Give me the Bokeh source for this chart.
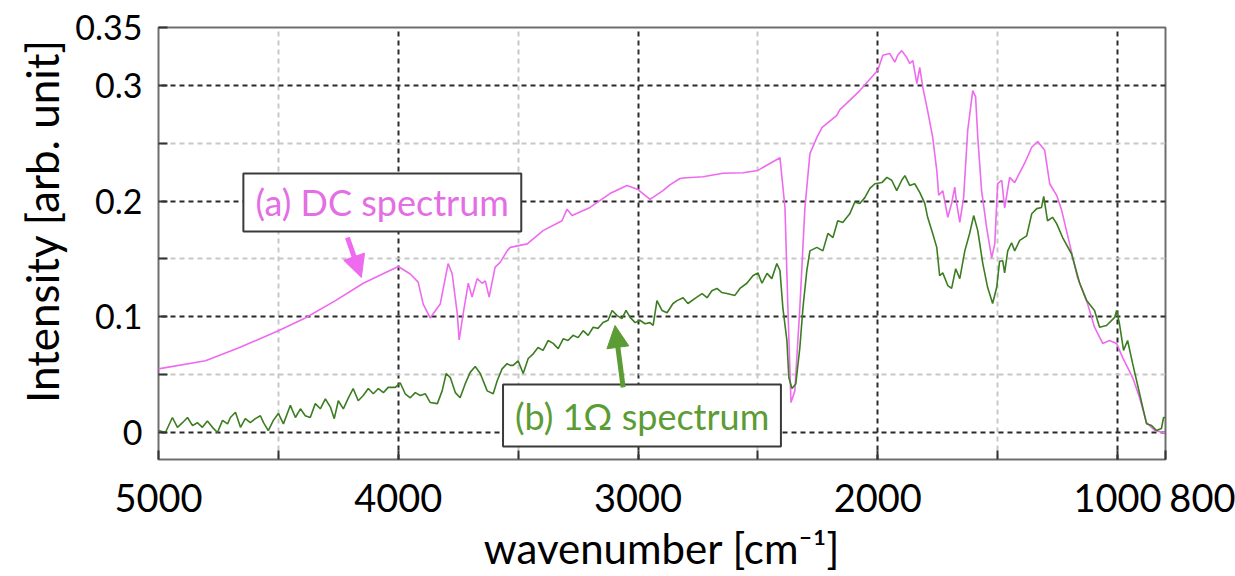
from bokeh.plotting import figure
from bokeh.models import Range1d, FixedTicker, Arrow, NormalHead, Label, BoxAnnotation
from bokeh.embed import file_html
from bokeh.resources import INLINE

# (a) DC spectrum
dc_wavenumber = [5000, 4804, 4667, 4500, 4388, 4262, 4146, 4000, 3950, 3917, 3896, 3867,
                 3825, 3792, 3775, 3754, 3746, 3729, 3708, 3692, 3671, 3650, 3637, 3621,
                 3596, 3575, 3546, 3533, 3462, 3396, 3317, 3296, 3275, 3200, 3117, 3046,
                 3000, 2950, 2896, 2867, 2825, 2812, 2729, 2646, 2562, 2500, 2450, 2408,
                 2387, 2375, 2362, 2346, 2325, 2304, 2283, 2254, 2233, 2171, 2158, 2117,
                 2075, 2000, 1979, 1950, 1929, 1917, 1900, 1879, 1867, 1854, 1837, 1825,
                 1812, 1792, 1771, 1754, 1746, 1729, 1708, 1692, 1679, 1671, 1658, 1642,
                 1625, 1604, 1592, 1583, 1567, 1546, 1525, 1512, 1500, 1483, 1471, 1450,
                 1429, 1408, 1388, 1358, 1333, 1304, 1283, 1254, 1233, 1200, 1167, 1129,
                 1096, 1062, 1033, 1004, 979, 937, 908, 879, 846, 812, 800]
dc_intensity = [0.055, 0.062, 0.073, 0.088, 0.099, 0.114, 0.129, 0.1435, 0.137, 0.130, 0.111, 0.099,
                0.111, 0.146, 0.137, 0.103, 0.080, 0.103, 0.129, 0.117, 0.133, 0.129, 0.131, 0.117,
                0.143, 0.147, 0.157, 0.160, 0.163, 0.1745, 0.183, 0.193, 0.1875, 0.1945, 0.2065, 0.2135,
                0.210, 0.2015, 0.209, 0.214, 0.2195, 0.220, 0.221, 0.224, 0.2245, 0.2265, 0.2325, 0.2375,
                0.194, 0.108, 0.026, 0.036, 0.108, 0.194, 0.241, 0.255, 0.2635, 0.274, 0.279, 0.287,
                0.2955, 0.313, 0.326, 0.3275, 0.320, 0.326, 0.330, 0.324, 0.319, 0.3215, 0.3015, 0.3155,
                0.298, 0.278, 0.255, 0.2265, 0.205, 0.209, 0.186, 0.198, 0.212, 0.198, 0.1815, 0.203,
                0.261, 0.2955, 0.290, 0.255, 0.209, 0.177, 0.151, 0.163, 0.215, 0.218, 0.194, 0.2205,
                0.216, 0.2245, 0.2325, 0.2465, 0.2515, 0.244, 0.215, 0.205, 0.192, 0.163, 0.134, 0.114,
                0.091, 0.077, 0.0795, 0.077, 0.065, 0.0475, 0.030, 0.0085, 0.002, 0.0, 0.0]

# (b) 1 Omega spectrum
ohm_wavenumber = [5000, 4971, 4942, 4921, 4900, 4879, 4858, 4838, 4817, 4796, 4775, 4754,
                  4733, 4712, 4700, 4679, 4658, 4638, 4617, 4596, 4575, 4562, 4542, 4521,
                  4500, 4479, 4450, 4429, 4408, 4388, 4367, 4346, 4325, 4304, 4283, 4267,
                  4250, 4229, 4208, 4188, 4167, 4146, 4125, 4104, 4083, 4062, 4042, 4012,
                  3992, 3971, 3950, 3929, 3908, 3887, 3867, 3837, 3817, 3800, 3783, 3762,
                  3742, 3721, 3700, 3679, 3658, 3629, 3604, 3587, 3567, 3546, 3533, 3521,
                  3500, 3479, 3458, 3437, 3417, 3396, 3375, 3354, 3333, 3312, 3292, 3271,
                  3250, 3229, 3208, 3187, 3167, 3146, 3125, 3108, 3087, 3067, 3050, 3033,
                  3012, 2992, 2971, 2950, 2937, 2921, 2900, 2879, 2854, 2837, 2812, 2792,
                  2762, 2733, 2712, 2692, 2671, 2650, 2625, 2596, 2575, 2546, 2521, 2500,
                  2483, 2462, 2442, 2421, 2408, 2396, 2379, 2371, 2358, 2342, 2325, 2312,
                  2296, 2283, 2254, 2229, 2208, 2187, 2167, 2146, 2117, 2096, 2075, 2054,
                  2033, 2012, 1983, 1962, 1942, 1921, 1900, 1887, 1867, 1846, 1825, 1804,
                  1792, 1771, 1754, 1742, 1729, 1708, 1692, 1675, 1658, 1637, 1617, 1600,
                  1583, 1562, 1542, 1521, 1504, 1492, 1479, 1471, 1458, 1442, 1429, 1408,
                  1379, 1358, 1337, 1317, 1308, 1292, 1271, 1254, 1229, 1192, 1158, 1129,
                  1096, 1075, 1046, 1012, 1004, 992, 975, 958, 937, 908, 879, 858,
                  837, 817, 808, 800]
ohm_intensity = [0.0017, 0.0, 0.013, 0.0045, 0.0085, 0.013, 0.006, 0.0085, 0.0045, 0.010, 0.0045, 0.0,
                 0.0105, 0.0075, 0.013, 0.0175, 0.0045, 0.012, 0.0085, 0.012, 0.0145, 0.0085, 0.0017, 0.0105,
                 0.0165, 0.0075, 0.0235, 0.013, 0.0205, 0.0145, 0.013, 0.025, 0.0205, 0.029, 0.022, 0.012,
                 0.0275, 0.0205, 0.030, 0.038, 0.0275, 0.032, 0.038, 0.0335, 0.038, 0.0345, 0.039, 0.039,
                 0.043, 0.0335, 0.030, 0.0345, 0.032, 0.0335, 0.026, 0.025, 0.036, 0.051, 0.0475, 0.0345,
                 0.030, 0.042, 0.052, 0.057, 0.051, 0.036, 0.0335, 0.045, 0.055, 0.0595, 0.058, 0.058,
                 0.062, 0.051, 0.064, 0.068, 0.0735, 0.071, 0.0795, 0.077, 0.0725, 0.081, 0.0795, 0.084,
                 0.082, 0.088, 0.084, 0.091, 0.090, 0.095, 0.097, 0.1055, 0.101, 0.0985, 0.1055, 0.0995,
                 0.095, 0.097, 0.094, 0.095, 0.0925, 0.114, 0.1055, 0.1035, 0.1115, 0.114, 0.1165, 0.1115,
                 0.116, 0.120, 0.1165, 0.1225, 0.1245, 0.121, 0.120, 0.1185, 0.1245, 0.129, 0.1355, 0.138,
                 0.129, 0.1375, 0.133, 0.146, 0.140, 0.108, 0.0795, 0.0475, 0.038, 0.042, 0.0735, 0.108,
                 0.140, 0.157, 0.160, 0.157, 0.172, 0.1685, 0.183, 0.1815, 0.189, 0.199, 0.198, 0.203,
                 0.211, 0.215, 0.216, 0.2205, 0.218, 0.209, 0.218, 0.222, 0.2135, 0.215, 0.2075, 0.198,
                 0.186, 0.172, 0.160, 0.1355, 0.138, 0.127, 0.1245, 0.1415, 0.133, 0.157, 0.172, 0.1875,
                 0.1745, 0.146, 0.1255, 0.1115, 0.1255, 0.148, 0.1485, 0.138, 0.157, 0.164, 0.157, 0.166,
                 0.170, 0.189, 0.1935, 0.1945, 0.204, 0.183, 0.186, 0.1805, 0.1685, 0.1545, 0.129, 0.114,
                 0.1055, 0.091, 0.0925, 0.0995, 0.1055, 0.094, 0.071, 0.0795, 0.0595, 0.0335, 0.0075, 0.006,
                 0.0017, 0.0035, 0.013, 0.013]

x_ticks = [5000, 4000, 3000, 2000, 1000, 800]
x_minor_ticks = [4500, 3500, 2500, 1500]
y_ticks = [0, 0.1, 0.2, 0.3, 0.35]
y_tick_labels = ["0", "0.1", "0.2", "0.3", "0.35"]
y_minor_ticks = [0.05, 0.15, 0.25]

FONT = "Lato"
NBSP = "\u00a0"
MAGENTA = "#ee6aee"
MAGENTA_TEXT = "#e46ee4"
GREEN = "#3d7d22"
GREEN_TEXT = "#5c9c34"

p = figure(width=1235, height=576, output_backend="svg", toolbar_location=None,
           x_range=Range1d(5000, 800), y_range=Range1d(-0.0233, 0.35),
           min_border_left=158, min_border_right=70, min_border_top=27, min_border_bottom=117)
p.background_fill_color = "white"
p.border_fill_color = "white"
p.outline_line_color = "#6e6e6e"
p.outline_line_width = 2

# grids: dark dashed at the labelled values, light dashed half-way between
p.xgrid.ticker = FixedTicker(ticks=[4000, 3000, 2000, 1000], minor_ticks=x_minor_ticks)
p.ygrid.ticker = FixedTicker(ticks=[0, 0.1, 0.2, 0.3], minor_ticks=y_minor_ticks)
for g in (p.xgrid, p.ygrid):
    g.grid_line_color = "#2a2a2a"
    g.grid_line_width = 2
    g.grid_line_dash = "5 4"
    g.minor_grid_line_color = "#c8c8c8"
    g.minor_grid_line_width = 2
    g.minor_grid_line_dash = "5 4"

xa = p.xaxis[0]
xa.ticker = FixedTicker(ticks=x_ticks, minor_ticks=x_minor_ticks)
# "800" is nudged right so that it sits beside "1000" instead of on top of it
xa.major_label_overrides = {800: NBSP * 9 + "800"}
ya = p.yaxis[0]
ya.ticker = FixedTicker(ticks=y_ticks, minor_ticks=y_minor_ticks)
ya.major_label_overrides = {t: s for t, s in zip(y_ticks, y_tick_labels)}

for ax in (xa, ya):
    ax.axis_line_color = None
    ax.major_tick_in = 9
    ax.major_tick_out = 0
    ax.minor_tick_in = 9
    ax.minor_tick_out = 0
    ax.major_tick_line_color = "#333333"
    ax.minor_tick_line_color = "#333333"
    ax.major_tick_line_width = 2
    ax.minor_tick_line_width = 2
    ax.major_label_text_font = FONT
    ax.major_label_text_color = "black"
    ax.axis_label_text_font = FONT
    ax.axis_label_text_font_style = "normal"
    ax.axis_label_text_color = "black"

xa.axis_label = "wavenumber [cm\u207b\u00b9]"
xa.major_label_text_font_size = "38px"
xa.major_label_standoff = 14
xa.axis_label_text_font_size = "42px"
xa.axis_label_standoff = 0

# leading spaces lift the rotated title a little above the frame's middle
ya.axis_label = NBSP * 4 + "Intensity [arb. unit]"
ya.major_label_text_font_size = "34px"
ya.major_label_standoff = 16
ya.axis_label_text_font_size = "44px"
ya.axis_label_standoff = 4

p.line(dc_wavenumber, dc_intensity, line_color=MAGENTA, line_width=1.6)
p.line(ohm_wavenumber, ohm_intensity, line_color=GREEN, line_width=1.6)

# callout (a)
p.add_layout(BoxAnnotation(left=4646, right=3487, bottom=0.1737, top=0.2239,
                           fill_color="white", fill_alpha=1.0,
                           line_color="#3a3a3a", line_alpha=1.0, line_width=2))
p.add_layout(Label(x=4067, y=0.199, text="(a) DC spectrum", text_font=FONT,
                   text_font_size="36px", text_color=MAGENTA_TEXT,
                   text_align="center", text_baseline="middle"))
p.add_layout(Arrow(x_start=4212, y_start=0.1685, x_end=4154, y_end=0.134,
                   line_color=MAGENTA, line_width=5,
                   end=NormalHead(size=22, fill_color=MAGENTA, line_color=MAGENTA)))

# callout (b)
p.add_layout(BoxAnnotation(left=3563, right=2404, bottom=-0.0121, top=0.0415,
                           fill_color="white", fill_alpha=1.0,
                           line_color="#3a3a3a", line_alpha=1.0, line_width=2))
p.add_layout(Label(x=2983, y=0.0147, text="(b) 1\u03a9 spectrum", text_font=FONT,
                   text_font_size="36px", text_color=GREEN_TEXT,
                   text_align="center", text_baseline="middle"))
p.add_layout(Arrow(x_start=3062, y_start=0.039, x_end=3096, y_end=0.0925,
                   line_color=GREEN_TEXT, line_width=5,
                   end=NormalHead(size=22, fill_color=GREEN_TEXT, line_color=GREEN_TEXT)))

open("out.html", "w").write(file_html(p, INLINE))
